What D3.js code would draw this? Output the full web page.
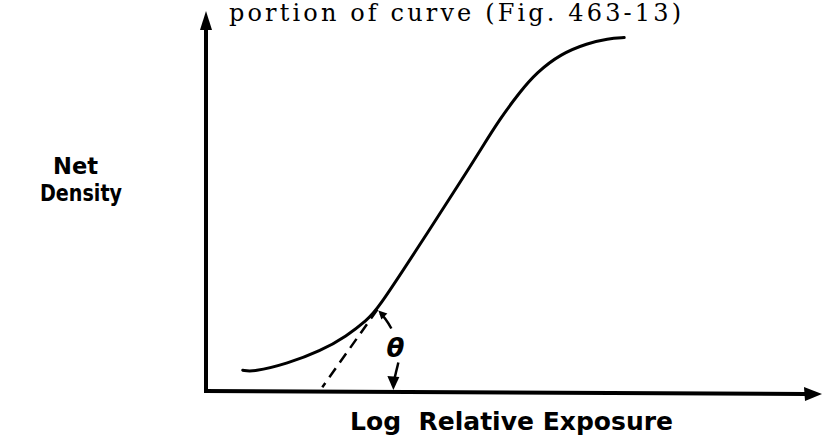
<!DOCTYPE html>
<html>
<head>
<meta charset="utf-8">
<script src="https://cdn.jsdelivr.net/npm/d3@7"></script>
<style>
  body { margin: 0; background: #fff; }
  svg { display: block; }
</style>
</head>
<body>
<svg width="822" height="436"></svg>
<script>
// characteristic (H&D) curve
var logE    = [0.18, 0.23, 0.40, 0.56, 0.69, 0.79, 0.84, 1.02, 1.26, 1.35, 1.44, 1.54, 1.62, 1.74, 1.87, 1.97, 2.05];
var density = [0.22, 0.20, 0.29, 0.42, 0.58, 0.75, 0.86, 1.45, 2.25, 2.56, 2.87, 3.16, 3.36, 3.56, 3.67, 3.72, 3.73];

// extended straight portion down to the exposure axis
var tangentX = [0.84, 0.57];
var tangentY = [0.86, 0.04];

var titleText = "portion of curve (Fig. 463-13)";
var yLabel = ["Net", "Density"];
var xLabel = "Log  Relative Exposure";

var svg = d3.select("svg"),
    width = +svg.attr("width"),
    height = +svg.attr("height");

var x = d3.scaleLinear().domain([0, 3]).range([206, 818]),
    y = d3.scaleLinear().domain([0, 4]).range([391, 12]);

var pts = logE.map(function(d, i) { return [d, density[i]]; });

var line = d3.line()
    .curve(d3.curveBasis)
    .x(function(d) { return x(d[0]); })
    .y(function(d) { return y(d[1]); });

// axes
svg.append("line")
    .attr("x1", x(0)).attr("y1", y(0) + 2)
    .attr("x2", x(0)).attr("y2", y(4) + 16)
    .attr("stroke", "#000").attr("stroke-width", 4);
svg.append("path")
    .attr("d", "M" + x(0) + "," + (y(4) - 1) + "l6,19l-12,0z")
    .attr("fill", "#000");

svg.append("line")
    .attr("x1", x(0) - 2).attr("y1", y(0))
    .attr("x2", x(3) - 12).attr("y2", y(0) + 3)
    .attr("stroke", "#000").attr("stroke-width", 4);
svg.append("path")
    .attr("d", "M" + (x(3) + 4) + "," + (y(0) + 3) + "l-18,-7l1,14z")
    .attr("fill", "#000");

// curve
svg.append("path")
    .datum(pts)
    .attr("d", line)
    .attr("fill", "none")
    .attr("stroke", "#000")
    .attr("stroke-width", 3)
    .attr("stroke-linecap", "round");

// dashed tangent
svg.append("line")
    .attr("x1", x(tangentX[0])).attr("y1", y(tangentY[0]))
    .attr("x2", x(tangentX[1])).attr("y2", y(tangentY[1]))
    .attr("stroke", "#000")
    .attr("stroke-width", 2.5)
    .attr("stroke-dasharray", "11,7");

// theta arrows
var tx = x(tangentX[0]), ty = y(tangentY[0]);
svg.append("path")
    .attr("d", "M" + (tx + 14) + "," + (ty + 19) + "Q" + (tx + 8) + "," + (ty + 8) + " " + (tx + 3) + "," + (ty + 4))
    .attr("fill", "none").attr("stroke", "#000").attr("stroke-width", 2.5);
svg.append("path")
    .attr("d", "M" + (tx + 1) + "," + (ty + 1) + "l9,3l-6,6z")
    .attr("fill", "#000");

svg.append("text")
    .attr("x", tx + 18).attr("y", ty + 47)
    .attr("text-anchor", "middle")
    .style("font", "italic bold 26px 'DejaVu Sans'")
    .text("\u03b8");

svg.append("line")
    .attr("x1", tx + 21).attr("y1", ty + 53)
    .attr("x2", tx + 17).attr("y2", y(0) - 12)
    .attr("stroke", "#000").attr("stroke-width", 2.5);
svg.append("path")
    .attr("d", "M" + (tx + 16) + "," + (y(0) - 1) + "l-6,-14l12,1z")
    .attr("fill", "#000");

// texts
svg.append("text")
    .attr("x", 229).attr("y", 21)
    .attr("textLength", 452).attr("lengthAdjust", "spacing")
    .style("font", "24px 'DejaVu Serif'")
    .text(titleText);

svg.selectAll(".ylab")
  .data(yLabel)
  .enter().append("text")
    .attr("class", "ylab")
    .attr("x", function(d, i) { return i ? 40 : 53; })
    .attr("y", function(d, i) { return 174 + i * 27; })
    .attr("textLength", function(d, i) { return i ? 82 : 45; })
    .attr("lengthAdjust", "spacingAndGlyphs")
    .style("font", "bold 23px 'DejaVu Sans'")
    .text(function(d) { return d; });

svg.append("text")
    .attr("x", 350).attr("y", 430)
    .attr("textLength", 323).attr("lengthAdjust", "spacingAndGlyphs")
    .attr("xml:space", "preserve")
    .style("white-space", "pre")
    .style("font", "bold 24px 'DejaVu Sans'")
    .text(xLabel);
</script>
</body>
</html>
